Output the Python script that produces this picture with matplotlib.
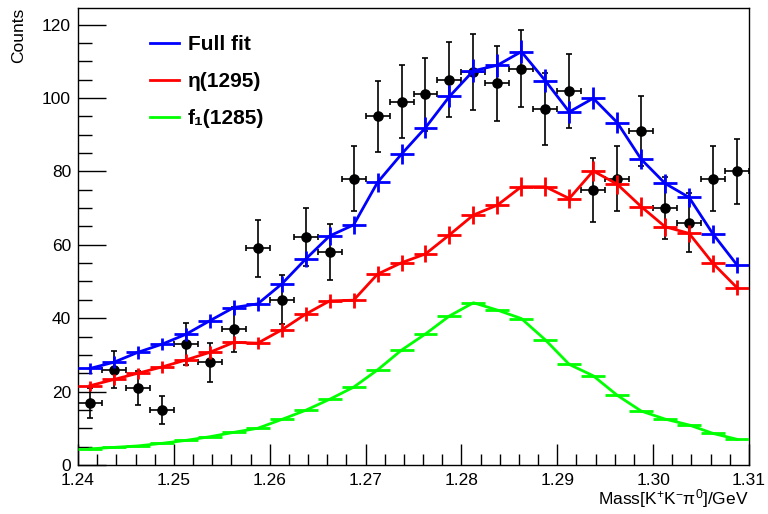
import numpy as np
import matplotlib
matplotlib.use("Agg")
import matplotlib.pyplot as plt
from matplotlib.ticker import MultipleLocator

plt.rcParams['font.family'] = ['Liberation Sans', 'DejaVu Sans']
plt.rcParams['mathtext.default'] = 'regular'

# ===== data (28 bins, 1.24 - 1.31 GeV) =====
bin_edges = np.linspace(1.24, 1.31, 29)
centers = 0.5 * (bin_edges[:-1] + bin_edges[1:])
half_w = 0.5 * (bin_edges[1] - bin_edges[0])

counts = [17, 26, 21, 15, 33, 28, 37, 59, 45, 62, 58, 78, 95, 99,
          101, 105, 107, 104, 108, 97, 102, 75, 78, 91, 70, 66, 78, 80]
counts_err = [4.1, 5.1, 4.6, 3.9, 5.7, 5.3, 6.1, 7.7, 6.7, 7.9, 7.6, 8.8, 9.7, 9.9,
              10.0, 10.2, 10.3, 10.2, 10.4, 9.8, 10.1, 8.7, 8.8, 9.5, 8.4, 8.1, 8.8, 8.9]

full_fit = [26.3, 28.0, 30.7, 32.9, 35.6, 39.3, 42.9, 43.9, 49.3, 56.1, 62.4, 65.4, 77.0, 84.7,
            91.9, 100.4, 107.4, 108.9, 112.6, 104.7, 96.2, 99.9, 93.3, 83.3, 76.7, 72.9, 62.9, 54.5]
full_err = [1.5, 1.6, 1.7, 1.7, 1.8, 1.9, 2.0, 2.0, 2.1, 2.2, 2.4, 2.4, 2.6, 2.8,
            2.9, 3.0, 3.1, 3.1, 3.2, 3.1, 2.9, 3.0, 2.9, 2.7, 2.6, 2.6, 2.4, 2.2]

eta_1295 = [21.6, 23.3, 25.0, 26.7, 28.6, 30.7, 33.4, 33.2, 36.8, 41.1, 44.7, 44.9, 52.0, 55.1,
            57.5, 62.7, 68.1, 70.8, 75.8, 75.8, 72.6, 80.1, 76.5, 70.4, 64.9, 63.1, 54.9, 48.3]
eta_err = [1.4, 1.4, 1.5, 1.6, 1.6, 1.7, 1.7, 1.7, 1.8, 1.9, 2.0, 2.0, 2.2, 2.2,
           2.3, 2.4, 2.5, 2.5, 2.6, 2.6, 2.6, 2.7, 2.6, 2.5, 2.4, 2.4, 2.2, 2.1]

f1_1285 = [4.4, 4.8, 5.2, 5.9, 6.7, 7.7, 8.9, 10.0, 12.4, 14.9, 17.9, 21.2, 25.9, 31.3,
           35.7, 40.6, 44.2, 42.2, 39.9, 34.1, 27.4, 24.3, 19.0, 14.7, 12.5, 10.9, 8.6, 7.0]
f1_err = [0.2] * 28

fig = plt.figure(figsize=(7.68, 5.14), dpi=100)
ax = fig.add_axes([78/768, 49/514, 671/768, 457/514])

# data points
ax.errorbar(centers, counts, yerr=counts_err, xerr=half_w, fmt='o', color='black',
            markersize=6.6, elinewidth=1.2, capsize=2.5, capthick=1.2, zorder=2)

# fit components: crosses + connecting line
fits = [(full_fit, full_err, '#0000ff', 'Full fit'),
        (eta_1295, eta_err, '#ff0000', '\u03b7(1295)'),
        (f1_1285, f1_err, '#00ff00', 'f\u2081(1285)')]
handles = []
for vals, errs, col, lab in fits:
    ax.errorbar(centers, vals, yerr=errs, xerr=half_w, fmt='none', ecolor=col,
                elinewidth=2, capsize=0, zorder=3)
    ln, = ax.plot(centers, vals, color=col, lw=2, label=lab, zorder=3)
    handles.append(ln)

ax.set_xlim(1.24, 1.31)
ax.set_ylim(0, 124.5)
ax.xaxis.set_major_locator(MultipleLocator(0.01))
ax.xaxis.set_minor_locator(MultipleLocator(0.002))
ax.yaxis.set_major_locator(MultipleLocator(20))
ax.yaxis.set_minor_locator(MultipleLocator(5))
ax.set_xticklabels([f"{v:.2f}" for v in ax.get_xticks()])
ax.tick_params(axis='both', which='both', direction='in', top=False, right=False,
               labelsize=12.5, width=1)
ax.tick_params(axis='x', which='major', length=15, pad=6)
ax.tick_params(axis='x', which='minor', length=8)
ax.tick_params(axis='y', which='major', length=20, pad=5)
ax.tick_params(axis='y', which='minor', length=10)
for s in ax.spines.values():
    s.set_linewidth(1)

ax.set_ylabel("Counts", fontsize=12.5, loc='top')
ax.yaxis.set_label_coords(-0.077, 1.0)
ax.set_xlabel("Mass[K$^{+}$K$^{-}\\pi^{0}$]/GeV", fontsize=12.5, loc='right')
ax.xaxis.set_label_coords(1.0, -0.048)

leg = ax.legend(handles=handles, loc='upper left', bbox_to_anchor=(0.108, 0.94),
                frameon=False, prop={'size': 15, 'weight': 'bold'},
                handlelength=1.35, handletextpad=0.45, labelspacing=0.85,
                borderpad=0, borderaxespad=0)

fig.savefig("out.png", dpi=100)
